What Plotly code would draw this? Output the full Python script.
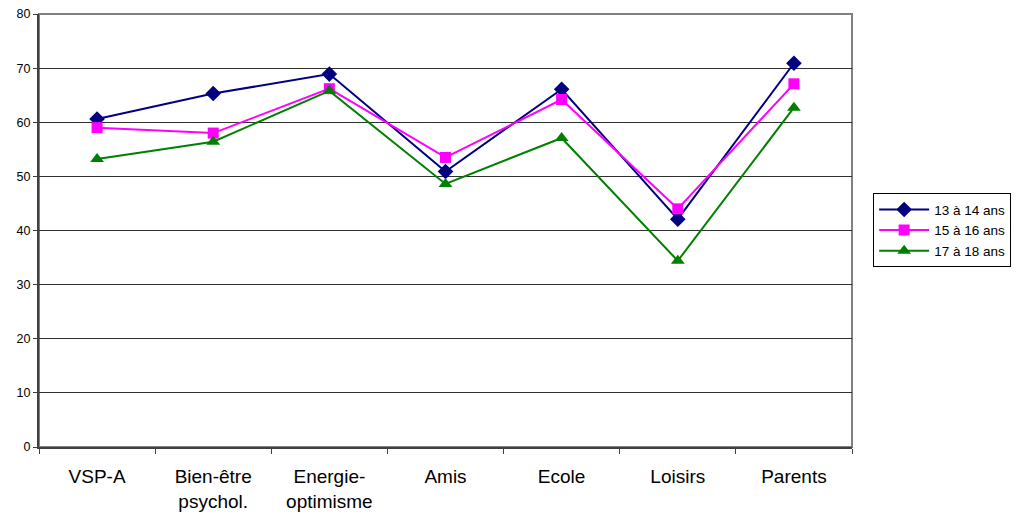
import plotly.graph_objects as go

categories = ["VSP-A", "Bien-être<br>psychol.", "Energie-<br>optimisme", "Amis", "Ecole", "Loisirs", "Parents"]
ages_13_14 = [60.6, 65.3, 68.9, 50.9, 66.1, 42.1, 70.9]
ages_15_16 = [59.0, 58.0, 66.2, 53.5, 64.2, 44.0, 67.1]
ages_17_18 = [53.2, 56.4, 65.8, 48.6, 57.1, 34.4, 62.7]
y_ticks = [0, 10, 20, 30, 40, 50, 60, 70, 80]

series = [
    ("13 à 14 ans", ages_13_14, "#000080", "diamond", 12),
    ("15 à 16 ans", ages_15_16, "#FF00FF", "square", 11),
    ("17 à 18 ans", ages_17_18, "#008000", "triangle-up", 12),
]

fig = go.Figure()
for name, vals, color, symbol, size in series:
    fig.add_trace(go.Scatter(
        x=categories, y=vals, name=name, mode="lines+markers",
        line=dict(color=color, width=2),
        marker=dict(symbol=symbol, size=size, color=color),
    ))

# grey frame around the plotting area
fig.add_shape(type="rect", xref="paper", yref="paper", x0=0, y0=0, x1=1, y1=1,
              line=dict(color="#808080", width=2), layer="below")

fig.update_layout(
    width=1019, height=520,
    margin=dict(l=39, r=167, t=14, b=73, autoexpand=False),
    paper_bgcolor="white", plot_bgcolor="white",
    font=dict(family="Liberation Sans, Arial, sans-serif", color="black"),
    showlegend=True,
    legend=dict(
        x=1.026, y=0.586, xanchor="left", yanchor="top",
        bordercolor="black", borderwidth=1, itemwidth=50,
        font=dict(size=13.5), tracegroupgap=0,
    ),
)
fig.update_xaxes(
    type="category", tickson="boundaries", ticks="outside", ticklen=5,
    tickcolor="#404040", showline=True, linecolor="#404040", linewidth=2,
    showgrid=False, tickfont=dict(size=19), range=[-0.5, 6.5],
    ticklabelstandoff=11, automargin=False,
)
fig.update_yaxes(
    range=[0, 80], tickvals=y_ticks, ticks="outside", ticklen=4,
    tickcolor="#404040", showline=True, linecolor="#404040", linewidth=2,
    showgrid=True, gridcolor="#303030", gridwidth=1,
    tickfont=dict(size=12.5), zeroline=False, automargin=False,
)

fig.write_html("out.html")
